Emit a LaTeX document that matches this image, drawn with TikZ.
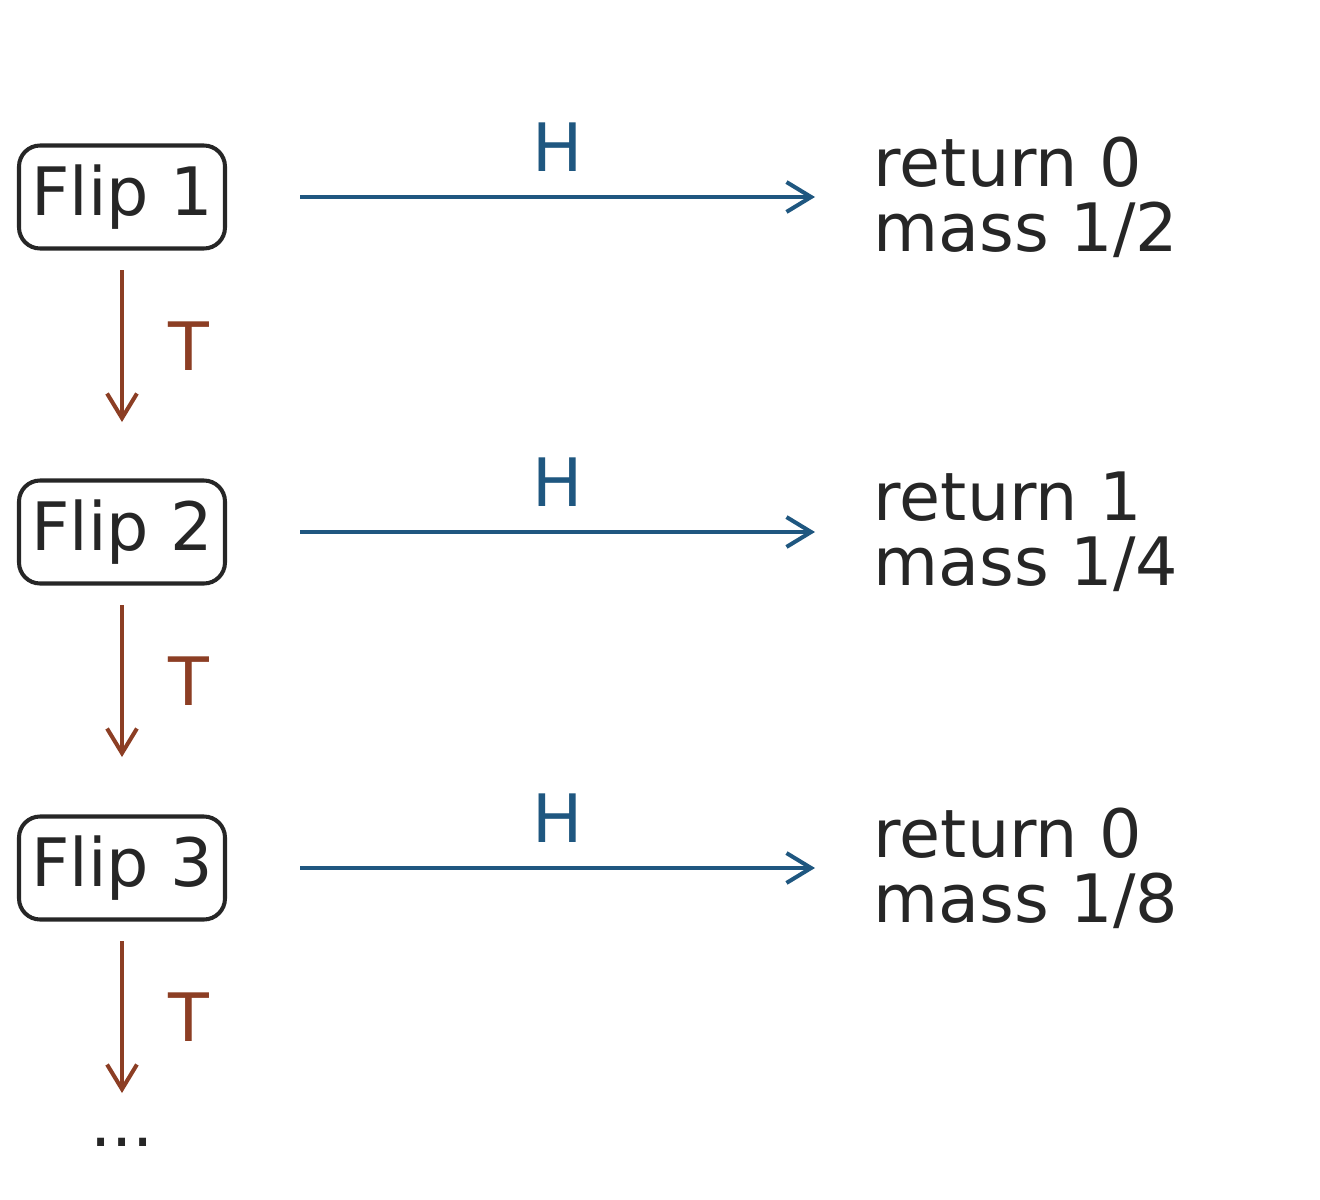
\documentclass[tikz,border=0pt]{standalone}
\usepackage{fontspec}
\setmainfont{DejaVu Sans}
\usetikzlibrary{arrows.meta}
\usetikzlibrary{positioning}
\definecolor{ink}{RGB}{38,38,38}
\definecolor{headc}{RGB}{31,87,128}
\definecolor{tailc}{RGB}{140,62,36}
\begin{document}
\begin{tikzpicture}[x=0.02cm,y=-0.02cm,line width=2.3pt,
  flip/.style={draw=ink,text=ink,rounded corners=12pt,minimum width=206*0.02cm,minimum height=103*0.02cm,font=\fontsize{38}{38}\selectfont},
  result/.style={text=ink,align=left,anchor=west,font=\fontsize{38}{37}\selectfont},
  lbl/.style={font=\fontsize{38}{38}\selectfont},
  head/.style={draw=headc,-{Straight Barb[length=14pt,width=17pt,line width=2.3pt]}},
  tail/.style={draw=tailc,-{Straight Barb[length=14pt,width=17pt,line width=2.3pt]}}]
\useasboundingbox (0,0) rectangle (1320,1200);
\foreach \i/\y/\r/\m in {1/197/0/2,2/532/1/4,3/868/0/8}{
  \node [flip] (f\i) at (122,\y) {Flip \i};
  \coordinate (hs\i) at (300,\y);
  \coordinate (he\i) at (815,\y);
  \node [result] (o\i) at (866,\y) {return \r\\mass 1/\m};
  \draw [head] (hs\i) -- node [lbl,text=headc,above=10pt] {H} (he\i);
  \coordinate (ts\i) at (122,\y+73);
  \coordinate (te\i) at (122,\y+225);
  \draw [tail] (ts\i) -- node [lbl,text=tailc,right=22pt] {T} (te\i);
}
\node [lbl,text=ink] (dots) at (122,1142) {...};
\end{tikzpicture}
\end{document}
